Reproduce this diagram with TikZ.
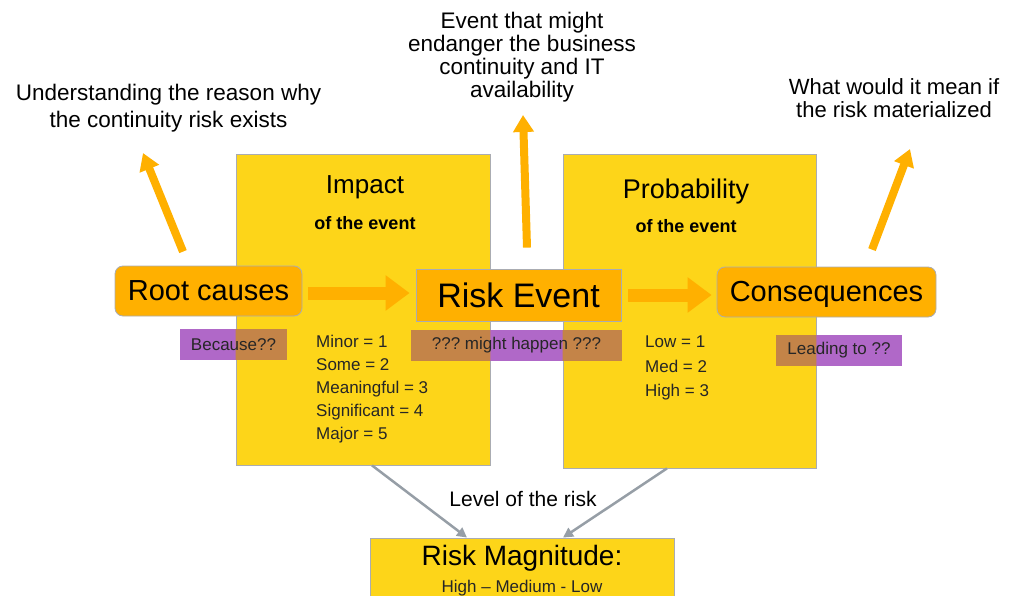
\documentclass[tikz,border=0pt]{standalone}
\usepackage{fontspec}
\setmainfont{Liberation Sans}
\usetikzlibrary{arrows.meta,calc}
\frenchspacing
\definecolor{boxyellow}{RGB}{253,213,25}
\definecolor{boxorange}{RGB}{255,176,0}
\definecolor{lblpurple}{RGB}{176,104,200}
\definecolor{lblbrown}{RGB}{196,132,72}
\definecolor{edgegray}{RGB}{170,172,178}
\definecolor{arrowgray}{RGB}{150,158,166}
\pgfdeclarelayer{bg}
\pgfdeclarelayer{mid}
\pgfsetlayers{bg,mid,main}
\tikzset{
  bigbox/.style={draw=edgegray, line width=0.8pt, fill=boxyellow, rectangle, inner sep=0pt},
  keybox/.style={draw=edgegray, line width=0.8pt, fill=boxorange, rectangle, inner sep=0pt, font=\fontsize{29}{32}\selectfont},
  tagbox/.style={rectangle, inner sep=0pt, font=\fontsize{17}{20}\selectfont, text=black!85},
  note/.style={align=center, inner sep=0pt},
  blockarrow/.style={draw=boxorange, line width=13pt, -{Triangle[width=34pt,length=24pt]}},
  uparrow/.style={draw=boxorange, line width=8pt, -{Triangle[width=20pt,length=17pt]}},
  grayarrow/.style={draw=arrowgray, line width=2.5pt, -{Triangle[width=10pt,length=10pt]}},
}
\begin{document}
\begin{tikzpicture}[x=1pt,y=-1pt]
\useasboundingbox (0,0) rectangle (1011,596);
\clip (0,0) rectangle (1011,596);
% big yellow boxes (back layer)
\begin{pgfonlayer}{bg}
\node[bigbox, minimum width=254pt, minimum height=311pt] (impact) at (363,309.5) {};
\node[bigbox, minimum width=253pt, minimum height=314pt] (prob) at (689.5,311) {};
\node[bigbox, minimum width=304pt, minimum height=80pt] (mag) at (522,578) {};
\end{pgfonlayer}
% titles inside boxes
\node[font=\fontsize{26}{30}\selectfont] (impt) at (365,187) {Impact};
\node[font=\bfseries\fontsize{18}{20}\selectfont] (impsub) at (365,223) {of the event};
\node[font=\fontsize{27}{30}\selectfont] (probt) at (686,192) {Probability};
\node[font=\bfseries\fontsize{18}{20}\selectfont] (probsub) at (686,226) {of the event};
\node[anchor=north west, align=left, inner sep=0pt, font=\fontsize{17}{23}\selectfont, text=black!85] (implist) at (316,335)
  {Minor = 1\\Some = 2\\Meaningful = 3\\Significant = 4\\Major = 5};
\node[anchor=north west, align=left, inner sep=0pt, font=\fontsize{17}{24.5}\selectfont, text=black!85] (problist) at (645,336)
  {Low = 1\\Med = 2\\High = 3};
\node[font=\fontsize{28}{30}\selectfont] (magt) at (522,558) {Risk Magnitude:};
\node[font=\fontsize{17}{20}\selectfont, text=black!85] (mags) at (522,588) {High -- Medium - Low};
% key boxes
\node[keybox, rounded corners=8pt, minimum width=187pt, minimum height=50pt] (root) at (208.5,291) {Root causes};
\node[keybox, minimum width=205pt, minimum height=52pt, font=\fontsize{34}{36}\selectfont] (event) at (518.5,295) {Risk Event};
\node[keybox, rounded corners=8pt, minimum width=219pt, minimum height=50pt, text depth=2pt] (cons) at (826.5,292) {Consequences};
% tag boxes (text in main, fills on mid layer)
\node[tagbox, minimum width=107pt, minimum height=31pt] (because) at (233.5,344.5) {Because??};
\node[tagbox, minimum width=211pt, minimum height=31pt] (happen) at (516.5,345.5) {??? might happen ???};
\node[tagbox, minimum width=126pt, minimum height=31pt] (leading) at (839,350.5) {Leading to ??};
\begin{pgfonlayer}{mid}
\foreach \t in {because,happen,leading}{
  \fill[lblpurple] (\t.south west) rectangle (\t.north east);
}
\begin{scope}
\clip (impact.south west) rectangle (impact.north east);
\fill[lblbrown] (because.south west) rectangle (because.north east);
\fill[lblbrown] (happen.south west) rectangle (happen.north east);
\end{scope}
\begin{scope}
\clip (prob.south west) rectangle (prob.north east);
\fill[lblbrown] (happen.south west) rectangle (happen.north east);
\fill[lblbrown] (leading.south west) rectangle (leading.north east);
\end{scope}
\end{pgfonlayer}
% block arrows
\draw[blockarrow, shorten <=6pt, shorten >=6pt] (root.east |- 0,293) -- (event.west |- 0,293);
\draw[blockarrow, shorten <=7pt, shorten >=5pt] (event.east |- 0,295) -- (cons.west |- 0,295);
% notes above
\node[note, font=\fontsize{22.5}{27}\selectfont] (why) at (168.5,108) {Understanding the reason why\\the continuity risk exists};
\node[note, font=\fontsize{22.5}{23}\selectfont] (what) at (522,57) {Event that might\\endanger the business\\continuity and IT\\availability};
\node[note, font=\fontsize{22}{23}\selectfont] (mean) at (894,98) {What would it mean if\\the risk materialized};
\coordinate (whytip) at (143,153);
\coordinate (whattip) at (523,115);
\coordinate (meantip) at (910,149);
\draw[uparrow] ([shift={(-25.5pt,14pt)}]root.north) -- (whytip);
\draw[uparrow] ([shift={(8.5pt,21pt)}]event.north) -- (whattip);
\draw[uparrow] ([shift={(45.5pt,17pt)}]cons.north) -- (meantip);
% gray arrows to magnitude
\draw[grayarrow] ([xshift=9pt]impact.south) -- ([xshift=-55pt]mag.north);
\draw[grayarrow] ([xshift=-22.5pt]prob.south) -- ([xshift=41pt]mag.north);
\node[font=\fontsize{21}{24}\selectfont] (level) at (523,499) {Level of the risk};
\end{tikzpicture}
\end{document}
